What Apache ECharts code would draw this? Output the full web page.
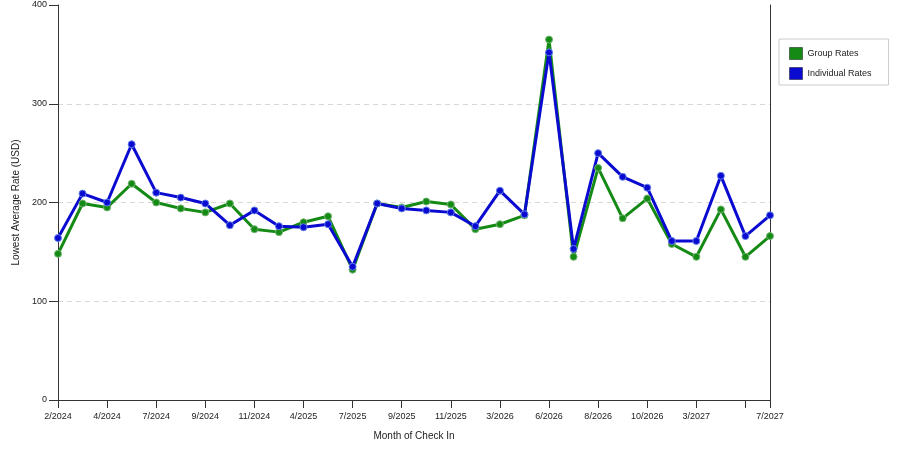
<!doctype html>
<html lang="en">
<head>
    <meta charset="UTF-8">
    <title>Lowest Average Rate</title>
    <style>
        html, body { margin: 0; padding: 0; background: #fff; }
        #chart { width: 900px; height: 450px; }
    </style>
</head>
<body>
    <div id="chart"></div>

    <script src="https://cdn.jsdelivr.net/npm/echarts@6/dist/echarts.min.js"></script>
    <script>
        // months of check in (only some are labelled on the axis)
        var months = ['2/2024', '3/2024', '4/2024', '5/2024', '7/2024', '8/2024', '9/2024', '10/2024',
            '11/2024', '12/2024', '4/2025', '5/2025', '7/2025', '8/2025', '9/2025', '10/2025',
            '11/2025', '12/2025', '3/2026', '4/2026', '6/2026', '7/2026', '8/2026', '9/2026',
            '10/2026', '11/2026', '3/2027', '4/2027', '6/2027', '7/2027'];

        var groupRates = [148, 199, 195, 219, 200, 194, 190, 199, 173, 170, 180, 186, 132, 199, 195, 201,
            198, 173, 178, 187, 365, 145, 235, 184, 204, 158, 145, 193, 145, 166];

        var individualRates = [164, 209, 200, 259, 210, 205, 199, 177, 192, 176, 175, 178, 135, 199, 194, 192,
            190, 176, 212, 188, 352, 153, 250, 226, 215, 161, 161, 227, 166, 187];

        var yTicks = { min: 0, max: 400, step: 100 };

        var font = 'Liberation Sans, Arial, sans-serif';

        var chart = echarts.init(document.getElementById('chart'));

        var option = {
            animation: false,
            grid: { left: 58, right: 130, top: 5, bottom: 50 },
            legend: {
                orient: 'vertical',
                left: 779,
                top: 39,
                padding: [8, 17, 5, 10],
                itemWidth: 13,
                itemHeight: 12,
                itemGap: 7,
                borderColor: '#cccccc',
                borderWidth: 1,
                icon: 'rect',
                itemStyle: { borderColor: 'rgba(0,0,0,0.45)', borderWidth: 1 },
                textStyle: { fontSize: 9, color: '#222', fontFamily: font },
                data: ['Group Rates', 'Individual Rates']
            },
            xAxis: {
                type: 'category',
                boundaryGap: false,
                data: months,
                name: 'Month of Check In',
                nameLocation: 'middle',
                nameGap: 31,
                nameTextStyle: { fontSize: 10, color: '#222', fontFamily: font },
                axisLine: { lineStyle: { color: '#333', width: 1 } },
                axisTick: {
                    length: 8,
                    interval: function (i) { return i % 2 === 0 || i === months.length - 1; },
                    lineStyle: { color: '#333' }
                },
                axisLabel: {
                    fontSize: 9,
                    color: '#222',
                    fontFamily: font,
                    margin: 12,
                    interval: function (i) {
                        return (i % 2 === 0 && i !== 28) || i === months.length - 1;
                    }
                },
                splitLine: { show: false }
            },
            yAxis: [{
                type: 'value',
                min: yTicks.min,
                max: yTicks.max,
                interval: yTicks.step,
                name: 'Lowest Average Rate (USD)',
                nameLocation: 'middle',
                nameRotate: 90,
                nameGap: 34,
                nameTextStyle: { fontSize: 10, color: '#222', fontFamily: font },
                axisLine: { show: true, lineStyle: { color: '#333', width: 1 } },
                axisTick: { show: true, length: 9, lineStyle: { color: '#333' } },
                axisLabel: { fontSize: 9, color: '#222', fontFamily: font, margin: 11 },
                splitLine: {
                    show: true,
                    showMinLine: false,
                    showMaxLine: false,
                    lineStyle: { color: '#d8d8d8', type: [5, 4], width: 1 }
                }
            }, {
                type: 'value',
                position: 'right',
                min: yTicks.min,
                max: yTicks.max,
                interval: yTicks.step,
                axisLine: { show: true, lineStyle: { color: '#333', width: 1 } },
                axisTick: { show: false },
                axisLabel: { show: false },
                splitLine: { show: false }
            }],
            series: [{
                name: 'Group Rates',
                type: 'line',
                data: groupRates,
                symbol: 'circle',
                symbolSize: 7,
                lineStyle: { color: '#158a15', width: 3 },
                itemStyle: { color: '#158a15', borderColor: '#6fb36f', borderWidth: 1 }
            }, {
                name: 'Individual Rates',
                type: 'line',
                data: individualRates,
                symbol: 'circle',
                symbolSize: 7,
                lineStyle: { color: '#0a0ad0', width: 3 },
                itemStyle: { color: '#0a0ad0', borderColor: '#5f7fe8', borderWidth: 1 }
            }]
        };

        chart.setOption(option);
    </script>
</body>
</html>
